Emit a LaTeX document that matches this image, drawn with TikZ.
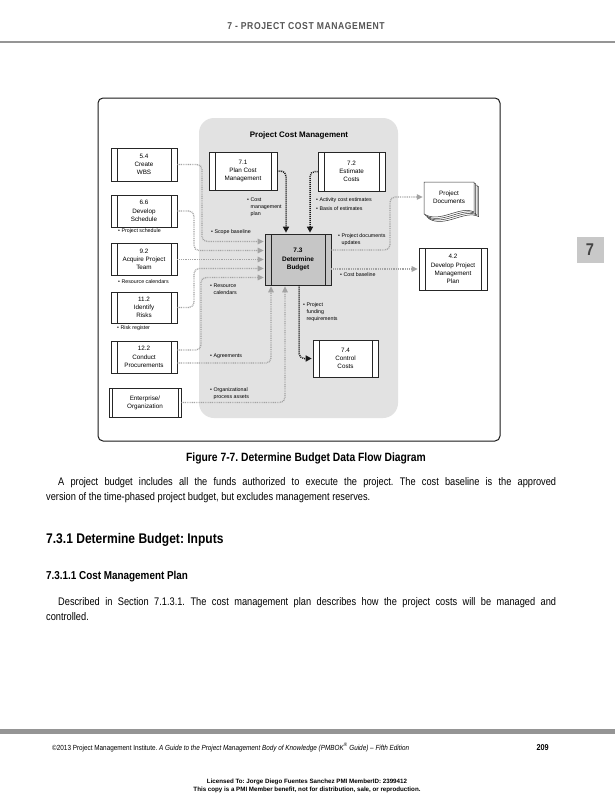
\documentclass[tikz,border=0pt]{standalone}
\usepackage{fontspec}
\setmainfont{Liberation Sans}
\newfontfamily\cond{Liberation Sans}[FakeStretch=0.86]
\newfontfamily\condb{Liberation Sans}[FakeStretch=0.84]
\usetikzlibrary{arrows.meta}
\definecolor{regiongray}{HTML}{E2E2E2}
\definecolor{budgetgray}{HTML}{C6C6C6}
\definecolor{flowgray}{HTML}{A3A3A3}
\definecolor{tabgray}{HTML}{C8C8C8}
\definecolor{headgray}{HTML}{555555}
\definecolor{rulegray}{HTML}{959595}
\tikzset{
  procbox/.style={draw=black!85, line width=0.7pt, fill=white, inner sep=0pt, align=center,
    font=\fontsize{6.3}{8.2}\selectfont,
    path picture={
      \draw[black!85, line width=0.6pt] ([xshift=6pt]path picture bounding box.north west) -- ([xshift=6pt]path picture bounding box.south west);
      \draw[black!85, line width=0.6pt] ([xshift=-6pt]path picture bounding box.north east) -- ([xshift=-6pt]path picture bounding box.south east);}},
  entbox/.style={draw=black!85, line width=0.7pt, fill=white, inner sep=0pt, align=center,
    font=\fontsize{6.3}{8.2}\selectfont,
    path picture={
      \draw[black!85, line width=0.6pt] ([xshift=3pt]path picture bounding box.north west) -- ([xshift=3pt]path picture bounding box.south west);
      \draw[black!85, line width=0.6pt] ([xshift=-3pt]path picture bounding box.north east) -- ([xshift=-3pt]path picture bounding box.south east);}},
  gline/.style={draw=flowgray, line width=1.3pt, dash pattern=on 0.9pt off 0.9pt, rounded corners=5pt,
    shorten >=1pt, -{Triangle[length=6pt,width=5.5pt]}},
  bline/.style={draw=black!90, line width=1.5pt, dash pattern=on 1pt off 1pt, rounded corners=5pt,
    shorten >=1pt, -{Triangle[length=6pt,width=6pt]}},
  lbl/.style={font=\fontsize{5.3}{7}\selectfont, inner sep=0pt, align=left},
  bodytext/.style={font=\condb\fontsize{11}{15}\selectfont, inner sep=0pt}
}
\begin{document}
\frenchspacing
\begin{tikzpicture}[x=1pt,y=-1pt]
\useasboundingbox (0,0) rectangle (615,800);
\fill[white] (0,0) rectangle (615,800);

% header
\node[anchor=base, text=headgray, font=\cond\bfseries\fontsize{10}{12}\selectfont\addfontfeature{LetterSpace=6}] (hdr) at (306,30) {7 - PROJECT COST MANAGEMENT};
\fill[rulegray] (0,41) rectangle (615,43.5);

% chapter tab
\fill[tabgray] (577,237) rectangle (604,263);
\node[text=headgray!80!black, font=\cond\bfseries\fontsize{17}{17}\selectfont] (tab) at (590,250) {7};

% frame and region
\draw[black!90, line width=1pt, rounded corners=5pt] (98,98) rectangle (500,441);
\fill[regiongray, rounded corners=15pt] (199,118) rectangle (398,418);
\node[font=\bfseries\fontsize{8}{9}\selectfont] (title) at (299,135) {Project Cost Management};

% process boxes
\node[procbox, minimum width=66pt, minimum height=33pt] (n54) at (144,164.5) {5.4\\Create\\WBS};
\node[procbox, minimum width=66pt, minimum height=32pt] (n66) at (144,211) {6.6\\Develop\\Schedule};
\node[procbox, minimum width=66pt, minimum height=32pt] (n92) at (144,259.5) {9.2\\Acquire Project\\Team};
\node[procbox, minimum width=66pt, minimum height=31pt] (n112) at (144,307.5) {11.2\\Identify\\Risks};
\node[procbox, minimum width=66pt, minimum height=32pt] (n122) at (144,357) {12.2\\Conduct\\Procurements};
\node[entbox, minimum width=72pt, minimum height=29pt] (nent) at (145,402.5) {Enterprise/\\Organization};
\node[procbox, minimum width=68pt, minimum height=38pt] (n71) at (243,171) {7.1\\Plan Cost\\Management};
\node[procbox, minimum width=67pt, minimum height=39pt] (n72) at (351.5,171.5) {7.2\\Estimate\\Costs};
\node[procbox, fill=budgetgray, minimum width=66pt, minimum height=51pt, font=\bfseries\fontsize{6.5}{8.2}\selectfont] (n73) at (298,259.5) {7.3\\Determine\\Budget};
\node[procbox, minimum width=65pt, minimum height=37pt] (n74) at (345.5,358.5) {7.4\\Control\\Costs};
\node[procbox, minimum width=68pt, minimum height=42pt] (n42) at (453,269) {4.2\\Develop Project\\Management\\Plan};

% project documents (stack)
\foreach \d in {4.5,3,1.5,0} {
  \filldraw[fill=white, draw=black!80, line width=0.5pt] ({424+\d},{182+\d}) -- ({474+\d},{182+\d}) -- ({474+\d},{212+\d})
    .. controls ({460+\d},{205+\d}) and ({440+\d},{224+\d}) .. ({424+\d},{214+\d}) -- cycle;
}
\node[minimum width=50pt, minimum height=30pt, inner sep=0pt, align=center, font=\fontsize{6.3}{8.2}\selectfont] (pd) at (449,197) {Project\\Documents};

% routing points
\coordinate (k54) at (202,241.5);
\coordinate (k66) at (194,250.5);
\coordinate (k112) at (194,268.5);
\coordinate (k122) at (201,277.5);
\coordinate (kagr) at (271,0);
\coordinate (kent) at (285,0);
\coordinate (kpd) at (390,0);
\coordinate (k71) at (286,0);
\coordinate (k72) at (310,0);
\coordinate (k74) at (299,0);

% gray flows
\draw[gline] (n54.east) -| (k54) -- (n73.west |- k54);
\draw[gline] (n66.east) -| (k66) -- (n73.west |- k66);
\draw[gline] (n92.east) -- (n73.west |- n92.east);
\draw[gline] (n112.east) -| (k112) -- (n73.west |- k112);
\draw[gline] ([yshift=7pt]n122.east) -| (k122) -- (n73.west |- k122);
\draw[gline] ([yshift=-6pt]n122.east) -| (n73.south -| kagr);
\draw[gline] (nent.east) -| (n73.south -| kent);
\draw[gline] ([yshift=9.5pt]n73.east) -| (kpd |- pd.west) -- (pd.west);
\draw[gline] (n73.east |- n42.west) -- (n42.west);

% black flows
\draw[bline] (n71.east) -| (n73.north -| k71);
\draw[bline] (n72.west) -| (n73.north -| k72);
\draw[bline] (n73.south -| k74) |- (n74.west);

% labels
\node[lbl, anchor=west] (l66) at (118,231) {• Project schedule};
\node[lbl, anchor=west] (l92) at (118,282) {• Resource calendars};
\node[lbl, anchor=west] (l112) at (117,328) {• Risk register};
\node[lbl, anchor=west] (lsb) at (211,232) {• Scope baseline};
\node[lbl, anchor=north west] (lcmp) at (247,198) {• Cost\\\hspace*{3.5pt}management\\\hspace*{3.5pt}plan};
\node[lbl, anchor=north west] (lace) at (316,197) {• Activity cost estimates\\[2.5pt]• Basis of estimates};
\node[lbl, anchor=north west] (lpdu) at (338,233) {• Project documents\\\hspace*{3.5pt}updates};
\node[lbl, anchor=west] (lcb) at (340,275) {• Cost baseline};
\node[lbl, anchor=north west] (lrc) at (210,284) {• Resource\\\hspace*{3.5pt}calendars};
\node[lbl, anchor=north west] (lpfr) at (303,302) {• Project\\\hspace*{3.5pt}funding\\\hspace*{3.5pt}requirements};
\node[lbl, anchor=west] (lagr) at (210,356) {• Agreements};
\node[lbl, anchor=north west] (lopa) at (210,387) {• Organizational\\\hspace*{3.5pt}process assets};

% caption and body text
\node[anchor=base, inner sep=0pt, font=\cond\bfseries\fontsize{12}{14}\selectfont] (cap) at (306,461) {Figure 7-7. Determine Budget Data Flow Diagram};
\node[bodytext, anchor=base west] (b1) at (58,485) {\makebox[498pt][s]{A project budget includes all the funds authorized to execute the project. The cost baseline is the approved}};
\node[bodytext, anchor=base west] (b2) at (46,500) {version of the time-phased project budget, but excludes management reserves.};
\node[anchor=base west, inner sep=0pt, font=\cond\bfseries\fontsize{14}{16}\selectfont] (h1) at (46,543) {7.3.1 Determine Budget: Inputs};
\node[anchor=base west, inner sep=0pt, font=\cond\bfseries\fontsize{11.5}{14}\selectfont] (h2) at (46,579) {7.3.1.1 Cost Management Plan};
\node[bodytext, anchor=base west] (p1) at (58,605) {\makebox[498pt][s]{Described in Section 7.1.3.1. The cost management plan describes how the project costs will be managed and}};
\node[bodytext, anchor=base west] (p2) at (46,620) {controlled.};

% footer
\fill[rulegray] (0,729) rectangle (615,734);
\node[anchor=base west, inner sep=0pt, font=\cond\fontsize{7.4}{9}\selectfont] (ft) at (52,750) {©2013 Project Management Institute. \textit{A Guide to the Project Management Body of Knowledge (PMBOK\textsuperscript{®} Guide) – Fifth Edition}};
\node[anchor=base east, inner sep=0pt, font=\cond\bfseries\fontsize{8.5}{10}\selectfont] (pg) at (549,750) {209};
\node[anchor=base, inner sep=0pt, font=\bfseries\fontsize{6.2}{7}\selectfont] (lic1) at (307,783.5) {Licensed To: Jorge Diego Fuentes Sanchez PMI MemberID: 2399412};
\node[anchor=base, inner sep=0pt, font=\bfseries\fontsize{6.2}{7}\selectfont] (lic2) at (307,791.5) {This copy is a PMI Member benefit, not for distribution, sale, or reproduction.};
\end{tikzpicture}
\end{document}
